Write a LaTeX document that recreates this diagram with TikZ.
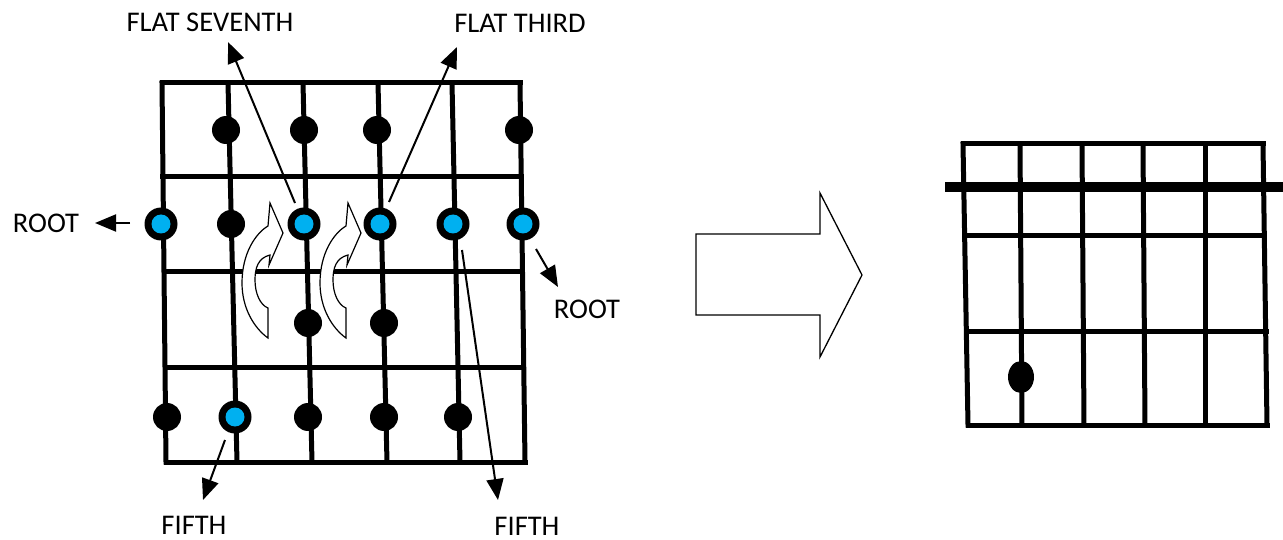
\documentclass[tikz,border=0pt]{standalone}
\usepackage{fontspec}
\setmainfont{Carlito}
\usetikzlibrary{arrows.meta,shapes.geometric}
\definecolor{dotblue}{RGB}{0,176,240}
\begin{document}
\begin{tikzpicture}[x=1pt,y=-1pt,
  grid/.style={line width=5pt, line cap=rect},
  nut/.style={line width=10pt},
  bdot/.style={circle,fill=black,inner sep=0pt,minimum size=28pt},
  ring/.style={circle,fill=black,inner sep=0pt,minimum size=33pt,
    path picture={\fill[dotblue] (path picture bounding box.center) circle[radius=9.5pt];}},
  edot/.style={ellipse,fill=black,inner sep=0pt,minimum width=26pt,minimum height=32pt},
  lbl/.style={font=\fontsize{28.5}{34}\selectfont, anchor=base, inner sep=0pt},
  note/.style={line width=2pt, -{Triangle[length=21pt,width=17pt]}},
  bigarrow/.style={draw, line width=1.3pt, fill=white, line join=miter},
  curvarrow/.pic={
    \draw[fill=white, line width=1.2pt, line join=miter]
      (0,0) .. controls (-14,-10) and (-26,-30) .. (-26,-55)
      .. controls (-26,-85) and (-12,-105) .. (0,-112)
      -- (2,-135) -- (15,-105) -- (1,-73) -- (2,-83)
      .. controls (-10,-80) and (-13,-70) .. (-13,-58)
      .. controls (-13,-45) and (-8,-33) .. (0,-30) -- cycle;
  },
]
\useasboundingbox (0,0) rectangle (1283,540);

% ---------- left fretboard ----------
\draw[grid] (162,83) -- (520,83);
\draw[grid] (162,177) -- (521,177);
\draw[grid] (165,272) -- (522,272);
\draw[grid] (167,367) -- (523,367);
\draw[grid] (166,462) -- (525,462);
\foreach \t/\b in {162/166, 228/237, 303/312, 378/387, 452/460, 520/525}
  \draw[grid] (\t,83) -- (\b,462);

% row 1
\node[bdot] (a1) at (226,130) {};
\node[bdot] (a2) at (304,130) {};
\node[bdot] (a3) at (377,130) {};
\node[bdot] (a4) at (519,130) {};
% row 2
\node[ring] (b1) at (161,224) {};
\node[bdot] (b2) at (231,224) {};
\node[ring] (b3) at (304,224) {};
\node[ring] (b4) at (380,224) {};
\node[ring] (b5) at (453,224) {};
\node[ring] (b6) at (523,224) {};
% row 3
\node[bdot] (c1) at (308,323) {};
\node[bdot] (c2) at (384,323) {};
% row 4
\node[bdot] (d1) at (167,417) {};
\node[ring] (d2) at (235,417) {};
\node[bdot] (d3) at (308,417) {};
\node[bdot] (d4) at (384,417) {};
\node[bdot] (d5) at (458,417) {};

% curved arrows
\pic at (268,338) {curvarrow};
\pic at (346,338) {curvarrow};

% labels
\node[lbl] (l7) at (210,32) {FLAT SEVENTH};
\node[lbl] (l3) at (520,33) {FLAT THIRD};
\node[lbl] (lrl) at (46,233) {ROOT};
\node[lbl] (lrr) at (587,319) {ROOT};
\node[lbl] (lfl) at (194,534) {FIFTH};
\node[lbl] (lfr) at (527,535) {FIFTH};

% annotation arrows
\coordinate (s7) at (295,203);  \coordinate (t7) at (228,42);
\coordinate (s3) at (389,202);  \coordinate (t3) at (457,47);
\coordinate (srl) at (130,223); \coordinate (trl) at (95,223);
\coordinate (srr) at (536,249); \coordinate (trr) at (558,287);
\coordinate (sfl) at (225,440); \coordinate (tfl) at (203,500);
\coordinate (sfr) at (462,250); \coordinate (tfr) at (498,500);
\draw[note] (s7) -- (t7);
\draw[note] (s3) -- (t3);
\draw[note] (srl) -- (trl);
\draw[note] (srr) -- (trr);
\draw[note] (sfl) -- (tfl);
\draw[note] (sfr) -- (tfr);

% ---------- big arrow ----------
\draw[bigarrow] (696,234) -- (820,234) -- (820,193) -- (862,275)
  -- (820,357) -- (820,315) -- (696,315) -- cycle;

% ---------- right fretboard ----------
\draw[grid] (963,144) -- (1263,144);
\draw[grid] (965,236) -- (1264,236);
\draw[grid] (966,331) -- (1266,331);
\draw[grid] (968,425) -- (1267,425);
\foreach \t/\b in {963/968, 1020/1022, 1082/1084, 1143/1145, 1205/1205, 1263/1267}
  \draw[grid] (\t,144) -- (\b,425);
\draw[nut] (945,187) -- (1283,187);
\node[edot] (rd) at (1021,377) {};
\end{tikzpicture}
\end{document}
